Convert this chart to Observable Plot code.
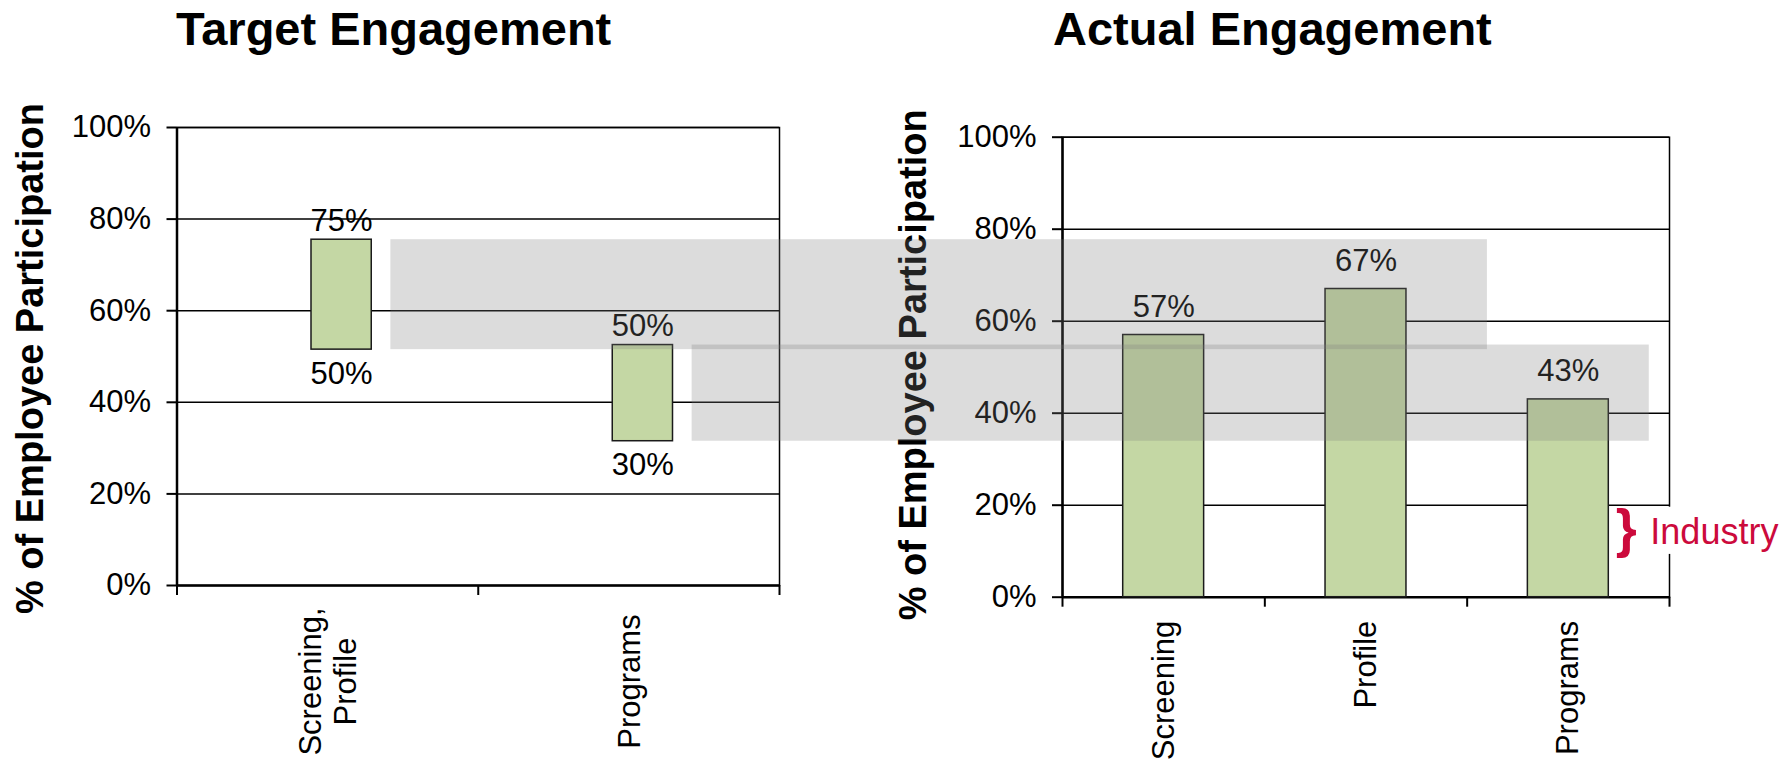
<!DOCTYPE html>
<html>
<head>
<meta charset="utf-8">
<script src="https://cdn.jsdelivr.net/npm/d3@7"></script>
<script src="https://cdn.jsdelivr.net/npm/@observablehq/plot@0.6"></script>
<style>
  body { margin: 0; background: #fff; }
  #wrap { position: relative; width: 1785px; height: 764px; overflow: hidden;
          font-family: "Liberation Sans", Arial, sans-serif; background: #fff; }
  .title { position: absolute; top: 5px; font-weight: bold; font-size: 47px; line-height: 47px;
           white-space: nowrap; color: #000; }
  .layer { position: absolute; top: 0; }
</style>
</head>
<body>
<div id="wrap">
  <div class="title" style="left:176px">Target Engagement</div>
  <div class="title" style="left:1053px">Actual Engagement</div>
</div>
<script>
// ---------- data ----------
const yTitle = "% of Employee Participation";
const yTicks = [0, 20, 40, 60, 80, 100];

const targetCategories = ["Screening,\nProfile", "Programs"];
const targetHigh = [75.5, 52.5];
const targetLow = [51.5, 31.5];
const targetHighLabels = ["75%", "50%"];
const targetLowLabels = ["50%", "30%"];

const actualCategories = ["Screening", "Profile", "Programs"];
const actualValues = [57, 67, 43];
const actualLabels = ["57%", "67%", "43%"];

const industryLabel = "Industry";
const industryRange = [8, 20];

// which actual-chart position each target highlight band reaches to
const bandReach = [1.6, 2.4];

// ---------- style ----------
const FONT = '"Liberation Sans", Arial, sans-serif';
const GREEN = "#c4d7a4";
const EDGE = "#1a1a1a";
const RED = "#cc0a3c";
const H = 764;
const RIGHT_OFFSET = 860;

const boundaries = n => d3.range(n + 1).map(i => i - 0.5);
const baseStyle = {fontFamily: FONT, fontSize: "31px", background: "transparent", overflow: "visible", color: "#000"};

// ---------- left chart ----------
const left = Plot.plot({
  width: 800, height: H,
  marginLeft: 176.5, marginRight: 21, marginTop: 127, marginBottom: 179,
  style: baseStyle,
  x: {domain: [-0.5, targetCategories.length - 0.5]},
  y: {domain: [0, 100]},
  marks: [
    Plot.ruleY(yTicks.slice(1), {stroke: "#000", strokeWidth: 1.5}),
    Plot.frame({stroke: "#000", strokeWidth: 1.5}),
    Plot.axisY({ticks: yTicks, tickSize: 10, tickPadding: 16, tickFormat: d => d + "%", strokeWidth: 2, fontSize: 31, label: null}),
    Plot.axisX({ticks: boundaries(targetCategories.length), tickSize: 10, tickFormat: null, text: null, strokeWidth: 2, label: null}),
    Plot.ruleX([-0.5], {stroke: "#000", strokeWidth: 2.5}),
    Plot.ruleY([0], {stroke: "#000", strokeWidth: 2.5}),
    Plot.rect(targetCategories, {
      x1: (d, i) => i - 0.1, x2: (d, i) => i + 0.1,
      y1: (d, i) => targetLow[i], y2: (d, i) => targetHigh[i],
      fill: GREEN, stroke: EDGE, strokeWidth: 1.5, dx: 14
    }),
    Plot.text(targetCategories, {x: (d, i) => i, y: (d, i) => targetHigh[i], text: (d, i) => targetHighLabels[i],
      dx: 14, dy: -9, lineAnchor: "bottom", fontSize: 31, fill: "#000"}),
    Plot.text(targetCategories, {x: (d, i) => i, y: (d, i) => targetLow[i], text: (d, i) => targetLowLabels[i],
      dx: 14, dy: 12, lineAnchor: "top", fontSize: 31, fill: "#000"}),
    Plot.text(targetCategories, {x: (d, i) => i, frameAnchor: "bottom", text: d => d, dy: 96, rotate: -90,
      textAnchor: "middle", lineAnchor: "middle", lineHeight: 1.12, fontSize: 31, fill: "#000"}),
    Plot.text([yTitle], {frameAnchor: "left", text: d => d, dx: -146.5, dy: 2, rotate: -90,
      textAnchor: "middle", lineAnchor: "middle", fontWeight: "bold", fontSize: 38, fill: "#000"})
  ]
});

// ---------- right chart ----------
const right = Plot.plot({
  width: 925, height: H,
  marginLeft: 202, marginRight: 116, marginTop: 136.7, marginBottom: 167.3,
  style: baseStyle,
  x: {domain: [-0.5, actualCategories.length - 0.5]},
  y: {domain: [0, 100]},
  marks: [
    Plot.ruleY(yTicks.slice(1), {stroke: "#000", strokeWidth: 1.5}),
    Plot.frame({stroke: "#000", strokeWidth: 1.5}),
    Plot.axisY({ticks: yTicks, tickSize: 10, tickPadding: 16, tickFormat: d => d + "%", strokeWidth: 2, fontSize: 31, label: null}),
    Plot.axisX({ticks: boundaries(actualCategories.length), tickSize: 10, tickFormat: null, text: null, strokeWidth: 2, label: null}),
    Plot.ruleX([-0.5], {stroke: "#000", strokeWidth: 2.5}),
    Plot.ruleY([0], {stroke: "#000", strokeWidth: 2.5}),
    Plot.rect(actualCategories, {
      x1: (d, i) => i - 0.2, x2: (d, i) => i + 0.2,
      y1: 0, y2: (d, i) => actualValues[i],
      fill: GREEN, stroke: EDGE, strokeWidth: 1.5
    }),
    Plot.text(actualCategories, {x: (d, i) => i, y: (d, i) => actualValues[i], text: (d, i) => actualLabels[i],
      dy: -18, lineAnchor: "bottom", fontSize: 31, fill: "#000"}),
    Plot.text(actualCategories, {x: (d, i) => i, frameAnchor: "bottom", text: d => d, dy: 23.5, rotate: -90,
      textAnchor: "end", lineAnchor: "middle", fontSize: 31, fill: "#000"}),
    Plot.text([yTitle], {frameAnchor: "left", text: d => d, dx: -148.3, dy: -2.4, rotate: -90,
      textAnchor: "middle", lineAnchor: "middle", fontWeight: "bold", fontSize: 38, fill: "#000"}),
    // industry annotation
    Plot.rect([industryRange], {x1: actualCategories.length - 0.6, x2: actualCategories.length + 0.3,
      y1: d => d[0], y2: d => d[1], insetTop: 2, insetBottom: 6, fill: "#fff"}),
    Plot.text([industryRange], {x: actualCategories.length - 1, y: d => (d[0] + d[1]) / 2, text: () => "}",
      dx: 58, dy: -3, fontSize: 54, fontWeight: "bold", fill: RED}),
    Plot.text([industryRange], {x: actualCategories.length - 1, y: d => (d[0] + d[1]) / 2, text: () => industryLabel,
      dx: 82, textAnchor: "start", fontSize: 36, fill: RED})
  ]
});

// ---------- highlight bands across both charts ----------
const lx = left.scale("x"), ly = left.scale("y"), rx = right.scale("x");
const bands = targetCategories.map((c, i) => ({
  x1: lx.apply(i + 0.21),
  x2: RIGHT_OFFSET + rx.apply(bandReach[i]),
  y1: ly.apply(targetLow[i]),
  y2: ly.apply(targetHigh[i])
}));
const overlay = Plot.plot({
  width: 1785, height: H, margin: 0,
  x: {type: "identity"}, y: {type: "identity"},
  style: {background: "transparent", overflow: "visible"},
  marks: [
    Plot.rect(bands, {x1: "x1", x2: "x2", y1: "y1", y2: "y2", fill: "#7d7d7d", fillOpacity: 0.27})
  ]
});

const wrap = document.getElementById("wrap");
left.classList.add("layer"); left.style.left = "0px";
right.classList.add("layer"); right.style.left = RIGHT_OFFSET + "px";
overlay.classList.add("layer"); overlay.style.left = "0px"; overlay.style.pointerEvents = "none";
wrap.appendChild(left);
wrap.appendChild(right);
wrap.appendChild(overlay);
</script>
</body>
</html>
